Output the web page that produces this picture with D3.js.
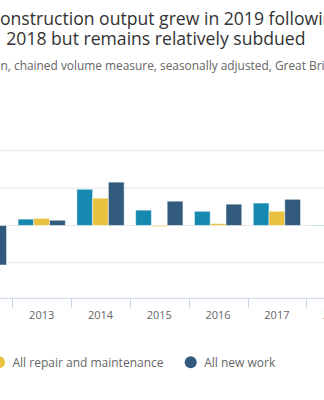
<!DOCTYPE html>
<head>
  <meta charset="utf-8">
  <script src="https://d3js.org/d3.v7.min.js"></script>
  <style>
    body { margin:0; background:#fff; overflow:hidden; }
    text { font-family: "Open Sans", sans-serif; }
  </style>
</head>
<body>
<script>
    // data (percentage change on previous year)
    var years = ["2012", "2013", "2014", "2015", "2016", "2017", "2018"];
    var seriesNames = ["All work", "All repair and maintenance", "All new work"];
    var allWork = [-7.7, 1.7, 9.7, 4.1, 3.8, 6.0, -0.1];
    var repair = [-3.5, 1.9, 7.3, -0.3, 0.5, 3.8, 1.5];
    var newWork = [-10.6, 1.4, 11.6, 6.5, 5.7, 7.0, -1.5];
    var gridTicks = [20, 10, 0, -10];
    var colors = ["#1689b1", "#e8c23f", "#315a7c"];

    var W = 324, H = 400;

    var svg = d3.select("body").append("svg")
        .attr("width", W)
        .attr("height", H);

    // helper to measure a bit of text
    function textWidth(str, size) {
      var t = svg.append("text").style("font-size", size + "px").text(str);
      var w = t.node().getComputedTextLength();
      t.remove();
      return w;
    }

    // titles (chart is cropped, so lines are placed by the visible part)
    var titleSize = 17.6;
    svg.append("text")
        .attr("x", -textWidth("C", titleSize))
        .attr("y", 24.5)
        .style("font-size", titleSize + "px")
        .attr("fill", "#333")
        .text("Construction output grew in 2019 following a fall in");
    svg.append("text")
        .attr("x", 6.3)
        .attr("y", 45)
        .style("font-size", titleSize + "px")
        .attr("fill", "#333")
        .text("2018 but remains relatively subdued");
    svg.append("text")
        .attr("x", 0.5 - textWidth("£ millio", 11.9))
        .attr("y", 69.5)
        .style("font-size", "11.9px")
        .attr("fill", "#666")
        .text("£ million, chained volume measure, seasonally adjusted, Great Britain");

    // scales
    var x0 = d3.scaleBand()
        .domain(years)
        .range([-46.5, -46.5 + 58.8 * years.length]);

    var x1 = d3.scaleBand()
        .domain(seriesNames)
        .range([0, x0.bandwidth()])
        .paddingOuter(0.365);

    var y = d3.scaleLinear()
        .domain([-20, 20])
        .range([300.1, 150.8]);

    // gridlines
    svg.append("g").selectAll("line").data(gridTicks).enter()
      .append("line")
        .attr("x1", 0).attr("x2", W)
        .attr("y1", function(d) { return y(d); })
        .attr("y2", function(d) { return y(d); })
        .attr("stroke", "#e6e6e6")
        .attr("stroke-width", 1);

    // bars
    var rows = years.map(function(yr, i) {
      return [allWork[i], repair[i], newWork[i]].map(function(v, j) {
        return {year: yr, series: seriesNames[j], value: v, color: colors[j]};
      });
    });

    svg.append("g").selectAll("g").data(rows).enter()
      .append("g")
        .attr("transform", function(d) { return "translate(" + x0(d[0].year) + ",0)"; })
      .selectAll("rect").data(function(d) { return d; }).enter()
      .append("rect")
        .attr("x", function(d) { return x1(d.series); })
        .attr("width", x1.bandwidth())
        .attr("y", function(d) { return y(Math.max(0, d.value)); })
        .attr("height", function(d) { return Math.abs(y(d.value) - y(0)); })
        .attr("fill", function(d) { return d.color; })
        .attr("stroke", "#fff")
        .attr("stroke-opacity", 0.5)
        .attr("stroke-width", 1);

    // x axis
    var axisY = 298.3;
    var xAxis = svg.append("g");
    xAxis.append("line")
        .attr("x1", 0).attr("x2", W)
        .attr("y1", axisY).attr("y2", axisY)
        .attr("stroke", "#ccd6eb");
    xAxis.selectAll(".tick").data(years).enter()
      .append("line")
        .attr("x1", function(d) { return Math.round(x0(d)) + 0.5; })
        .attr("x2", function(d) { return Math.round(x0(d)) + 0.5; })
        .attr("y1", axisY).attr("y2", axisY + 10)
        .attr("stroke", "#ccd6eb");
    xAxis.selectAll("text").data(years).enter()
      .append("text")
        .attr("x", function(d) { return x0(d) + x0.bandwidth() / 2; })
        .attr("y", 319)
        .attr("text-anchor", "middle")
        .style("font-size", "11px")
        .attr("fill", "#666")
        .text(function(d) { return d; });

    // legend
    var legSize = 12, gap = 27.2, symGap = 13.5;
    var legX = [];
    legX[1] = -1;
    legX[2] = legX[1] + symGap + textWidth(seriesNames[1], legSize) + gap;
    legX[0] = legX[1] - gap - textWidth(seriesNames[0], legSize) - symGap;

    var leg = svg.append("g").selectAll("g").data(seriesNames).enter()
      .append("g")
        .attr("transform", function(d, i) { return "translate(" + legX[i] + ",362.3)"; });
    leg.append("circle")
        .attr("r", 6)
        .attr("fill", function(d, i) { return colors[i]; });
    leg.append("text")
        .attr("x", symGap)
        .attr("y", 4.4)
        .style("font-size", legSize + "px")
        .attr("fill", "#666")
        .text(function(d) { return d; });
</script>
</body>
